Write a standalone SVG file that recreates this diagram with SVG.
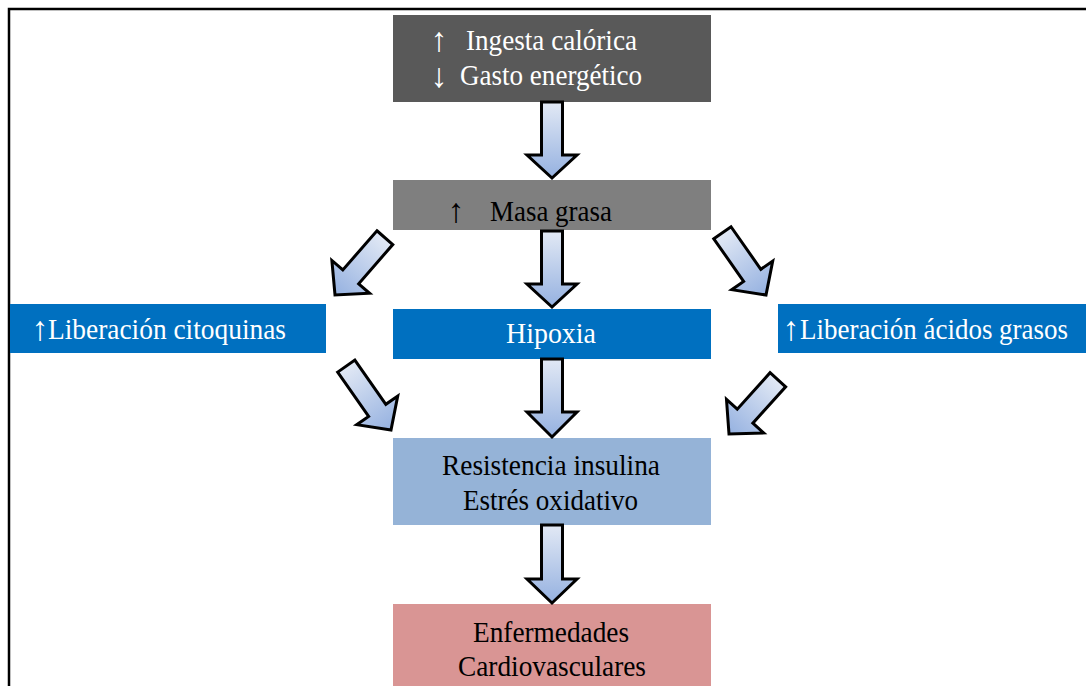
<svg xmlns="http://www.w3.org/2000/svg" width="1086" height="686" viewBox="0 0 1086 686">
<defs>
<linearGradient id="ag" x1="0" y1="0" x2="0" y2="1">
<stop offset="0" stop-color="#e2e9f5"/>
<stop offset="1" stop-color="#95b1e0"/>
</linearGradient>
<style>
.t{font-family:"Liberation Serif","Times New Roman",serif;font-size:30px}
.a{font-family:"Liberation Serif","DejaVu Serif",serif;font-size:34px}
.w{fill:#ffffff}
.k{fill:#000000}
.arr{fill:url(#ag);stroke:#000;stroke-width:3;stroke-linejoin:miter}
</style>
</defs>
<rect width="1086" height="686" fill="#ffffff"/>
<path d="M9,686 V9 H1086" fill="none" stroke="#000" stroke-width="2.5"/>

<g id="n_ingesta">
<rect x="393" y="15" width="318" height="87" fill="#595959"/>
<text class="a w" x="439" y="51" text-anchor="middle">↑</text>
<text class="t w" x="466" y="50" textLength="171" lengthAdjust="spacingAndGlyphs">Ingesta calórica</text>
<text class="a w" x="439" y="87" text-anchor="middle">↓</text>
<text class="t w" x="460" y="85" textLength="182" lengthAdjust="spacingAndGlyphs">Gasto energético</text>
</g>
<g id="n_masa">
<rect x="393" y="180" width="318" height="50" fill="#7f7f7f"/>
<text class="a k" x="456" y="222" text-anchor="middle">↑</text>
<text class="t k" x="490" y="221" textLength="122" lengthAdjust="spacingAndGlyphs">Masa grasa</text>
</g>
<g id="n_citoquinas">
<rect x="10" y="304" width="316" height="49" fill="#0070c0"/>
<text class="a w" x="40" y="340" text-anchor="middle">↑</text>
<text class="t w" x="48" y="339" textLength="238" lengthAdjust="spacingAndGlyphs">Liberación citoquinas</text>
</g>
<g id="n_hipoxia">
<rect x="393" y="309" width="318" height="50" fill="#0070c0"/>
<text class="t w" x="506" y="343" textLength="90" lengthAdjust="spacingAndGlyphs">Hipoxia</text>
</g>
<g id="n_acidos">
<rect x="778" y="304" width="308" height="49" fill="#0070c0"/>
<text class="a w" x="791" y="340" text-anchor="middle">↑</text>
<text class="t w" x="800" y="339" textLength="268" lengthAdjust="spacingAndGlyphs">Liberación ácidos grasos</text>
</g>
<g id="n_resistencia">
<rect x="393" y="438" width="318" height="87" fill="#95b3d7"/>
<text class="t k" x="442" y="475" textLength="218" lengthAdjust="spacingAndGlyphs">Resistencia insulina</text>
<text class="t k" x="463" y="510" textLength="175" lengthAdjust="spacingAndGlyphs">Estrés oxidativo</text>
</g>
<g id="n_enfermedades">
<rect x="393" y="604" width="318" height="82" fill="#d99594"/>
<text class="t k" x="473" y="642" textLength="156" lengthAdjust="spacingAndGlyphs">Enfermedades</text>
<text class="t k" x="458" y="676" textLength="188" lengthAdjust="spacingAndGlyphs">Cardiovasculares</text>
</g>

<g id="connectors">
<path class="arr" d="M-10.5,-76 H10.5 V-23 H25 L0,0 L-25,-23 H-10.5 Z" transform="translate(552,178)"/>
<path class="arr" d="M-10.5,-76 H10.5 V-23 H25 L0,0 L-25,-23 H-10.5 Z" transform="translate(552,307)"/>
<path class="arr" d="M-10.5,-78 H10.5 V-25 H25 L0,0 L-25,-25 H-10.5 Z" transform="translate(552,437)"/>
<path class="arr" d="M-10.5,-78 H10.5 V-24 H25 L0,0 L-25,-24 H-10.5 Z" transform="translate(552,603)"/>
<path class="arr" d="M-10.5,-76 H10.5 V-24 H25 L0,0 L-25,-24 H-10.5 Z" transform="translate(335,295) rotate(41)"/>
<path class="arr" d="M-10.5,-78 H10.5 V-24 H25 L0,0 L-25,-24 H-10.5 Z" transform="translate(391,430) rotate(-35)"/>
<path class="arr" d="M-10.5,-76 H10.5 V-24 H25 L0,0 L-25,-24 H-10.5 Z" transform="translate(766,295) rotate(-35)"/>
<path class="arr" d="M-10.5,-73 H10.5 V-24 H25 L0,0 L-25,-24 H-10.5 Z" transform="translate(729,434) rotate(42)"/>
</g>
</svg>
